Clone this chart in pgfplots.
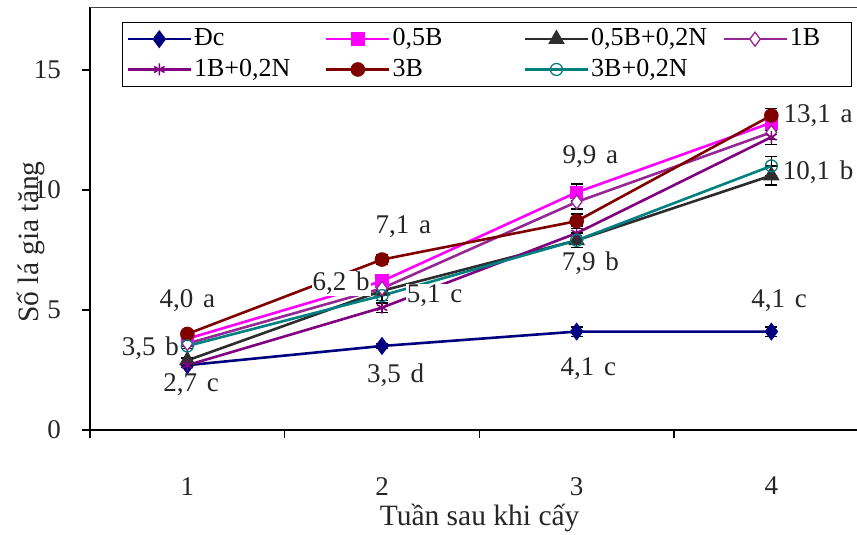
\documentclass[border=0pt]{standalone}
\usepackage{pgfplots}
\pgfplotsset{compat=1.18}
\usepackage{fontspec}
\setmainfont{Liberation Serif}
\definecolor{cDc}{RGB}{0,0,128}
\definecolor{cHalfB}{RGB}{255,0,255}
\definecolor{cHalfBN}{RGB}{45,45,45}
\definecolor{cOneB}{RGB}{150,40,150}
\definecolor{cOneBN}{RGB}{128,0,128}
\definecolor{cThreeB}{RGB}{128,0,0}
\definecolor{cThreeBN}{RGB}{0,128,128}
\newcommand{\lb}[2]{#1\hspace{3bp} #2}
\begin{document}
\fontsize{27bp}{32bp}\selectfont
\begin{tikzpicture}
\useasboundingbox (-90bp,-105bp) rectangle (767bp,430bp);
\begin{axis}[
  scale only axis, width=767bp, height=422.5bp,
  xmin=0.5, xmax=4.44, ymin=0, ymax=17.6,
  clip=false,
  axis x line*=bottom, axis y line*=left,
  axis line style={line width=2.2bp, black},
  every axis x line/.append style={-}, every axis y line/.append style={-},
  tick align=outside,
  major tick length=8bp,
  tick style={black, line width=1.3bp},
  /pgf/number format/assume math mode=true,
  ticklabel style={font=\fontsize{27bp}{30bp}\selectfont, text=black!85},
  xtick={0.5,1.5,2.5,3.5}, xticklabels={},
  extra x ticks={1,2,3,4}, extra x tick labels={1,2,3,4},
  extra x tick style={major tick length=0pt, xticklabel style={yshift=-38bp}},
  ytick={0,5,10,15},
  yticklabel style={xshift=-12bp},
  xlabel={Tuần sau khi cấy},
  xlabel style={at={(axis description cs:0.508,0)}, anchor=center, yshift=-88bp, font=\fontsize{29.5bp}{32bp}\selectfont, text=black!85},
  ylabel={Số lá gia tăng},
  ylabel style={at={(axis description cs:-0.077,0.445)}, anchor=center, font=\fontsize{29.5bp}{32bp}\selectfont, text=black!85},
  legend style={at={(axis description cs:0.0417,0.9657)}, anchor=north west,
    draw=black, line width=1bp, legend columns=4,
    font=\fontsize{26bp}{28bp}\selectfont,
    inner xsep=4bp, inner ysep=4bp, row sep=5bp,
    /tikz/every even column/.append style={column sep=4bp}},
  legend cell align=left,
  legend image code/.code={\draw[#1, mark repeat=2, mark phase=2] plot coordinates {(0bp,0bp) (31.5bp,0bp) (63bp,0bp)};},
  every axis plot/.append style={line width=2.6bp},
  error bars/y dir=both, error bars/y explicit,
  error bars/error bar style={black, line width=1.3bp},
  error bars/error mark options={black, line width=1.5bp, mark size=6bp, rotate=90},
]
\addplot[color=cDc, mark=diamond*, mark size=7bp, mark options={solid, fill=cDc}]
  coordinates {(1,2.7) +- (0,0.1) (2,3.5) +- (0,0.1) (3,4.1) +- (0,0.2) (4,4.1) +- (0,0.2)};
\addlegendentry{\makebox[125bp][l]{Đc}}
\addplot[color=cHalfB, mark=square*, mark size=5.5bp, mark options={solid, fill=cHalfB}]
  coordinates {(1,3.8) +- (0,0.1) (2,6.2) +- (0,0.2) (3,9.9) +- (0,0.35) (4,12.8) +- (0,0.3)};
\addlegendentry{\makebox[125bp][l]{0,5B}}
\addplot[color=cHalfBN, mark=triangle*, mark size=7bp, mark options={solid, fill=cHalfBN}]
  coordinates {(1,2.9) +- (0,0.1) (2,5.8) +- (0,0.2) (3,7.9) +- (0,0.3) (4,10.6) +- (0,0.4)};
\addlegendentry{\makebox[125bp][l]{0,5B+0,2N}}
\addplot[color=cOneB, mark=diamond*, mark size=7bp, mark options={solid, fill=white, draw=cOneB, line width=1.3bp}]
  coordinates {(1,3.6) +- (0,0.1) (2,5.9) +- (0,0.2) (3,9.5) +- (0,0.3) (4,12.4) +- (0,0.3)};
\addlegendentry{\makebox[56bp][l]{1B}}
\addplot[color=cOneBN, mark=asterisk, mark size=6bp, mark options={solid, line width=1.5bp}]
  coordinates {(1,2.7) +- (0,0.1) (2,5.1) +- (0,0.2) (3,8.2) +- (0,0.3) (4,12.2) +- (0,0.3)};
\addlegendentry{\makebox[125bp][l]{1B+0,2N}}
\addplot[color=cThreeB, mark=*, mark size=6bp, mark options={solid, fill=cThreeB}]
  coordinates {(1,4.0) +- (0,0.1) (2,7.1) +- (0,0.2) (3,8.7) +- (0,0.3) (4,13.1) +- (0,0.3)};
\addlegendentry{\makebox[125bp][l]{3B}}
\addplot[color=cThreeBN, mark=o, mark size=6bp, mark options={solid, fill=white, draw=cThreeBN, line width=1.3bp}]
  coordinates {(1,3.5) +- (0,0.1) (2,5.6) +- (0,0.2) (3,7.9) +- (0,0.3) (4,11.0) +- (0,0.4)};
\addlegendentry{3B+0,2N}
\draw[line width=1.3bp, black!75] (rel axis cs:0,1) -- (rel axis cs:1,1);
\begin{scope}[every node/.style={fill=white, inner sep=1bp, text=black!85, font=\fontsize{27bp}{30bp}\selectfont}]
\node at (axis cs:1.0,5.4) {\lb{4,0}{a}};
\node at (axis cs:0.81,3.4) {\lb{3,5}{b}};
\node at (axis cs:1.02,1.9) {\lb{2,7}{c}};
\node at (axis cs:1.79,6.1) {\lb{6,2}{b}};
\node at (axis cs:2.11,8.46) {\lb{7,1}{a}};
\node at (axis cs:2.27,5.6) {\lb{5,1}{c}};
\node at (axis cs:2.07,2.3) {\lb{3,5}{d}};
\node at (axis cs:3.07,11.4) {\lb{9,9}{a}};
\node at (axis cs:3.07,6.95) {\lb{7,9}{b}};
\node at (axis cs:3.06,2.55) {\lb{4,1}{c}};
\node at (axis cs:4.04,5.4) {\lb{4,1}{c}};
\node at (axis cs:4.24,13.1) {\lb{13,1}{a}};
\node at (axis cs:4.24,10.75) {\lb{10,1}{b}};
\end{scope}
\end{axis}
\end{tikzpicture}
\end{document}
